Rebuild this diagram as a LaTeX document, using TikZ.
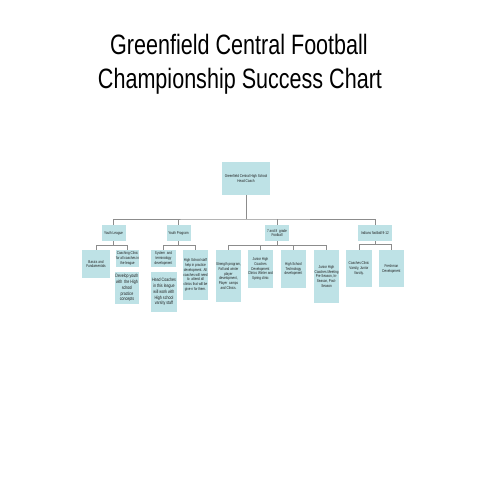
\documentclass[tikz,border=0pt]{standalone}
\usepackage{fontspec}
\newfontfamily\cond[FakeStretch=0.77]{Liberation Sans}
\newfontfamily\condb[FakeStretch=0.75]{Liberation Sans}
\definecolor{boxc}{RGB}{190,226,230}
\definecolor{linec}{RGB}{140,140,140}
\definecolor{txtc}{RGB}{30,30,30}
\tikzset{
  box/.style={fill=boxc, draw=none, inner sep=0pt, align=center, text=txtc,
    font=\condb\fontsize{4.1}{4.9}\selectfont},
  bigtxt/.style={font=\condb\fontsize{4.8}{5.8}\selectfont},
  conn/.style={draw=linec, line width=0.8pt},
  title/.style={font=\cond\fontsize{28}{33}\selectfont, text=black, inner sep=0pt, anchor=base}
}
\begin{document}
\begin{tikzpicture}[x=1pt,y=-1pt]
\useasboundingbox (0,0) rectangle (480,480);
\node[title] (t1) at (239,54.5) {Greenfield Central Football};
\node[title] (t2) at (240,88) {Championship Success Chart};

\node[box, minimum width=48pt, minimum height=33pt] (head) at (246,178.5) {Greenfield Central High School\\Head Coach};

\node[box, minimum width=24pt, minimum height=16pt] (yl) at (113.5,233) {Youth League};
\node[box, minimum width=24pt, minimum height=16pt] (yp) at (178.5,233) {Youth Program};
\node[box, minimum width=24pt, minimum height=16pt] (g78) at (277,233) {7 and 8 \ grade\\Football};
\node[box, minimum width=34pt, minimum height=16pt] (ind) at (375,233) {Indians football 9-12};

\node[box, minimum width=28pt, minimum height=28pt] (basics) at (96,264) {Basics and\\Fundamentals};
\node[box, minimum width=22pt, minimum height=17pt] (coach) at (127.5,258.5) {Coaching Clinic\\for all coaches in\\the league};
\node[box, bigtxt, minimum width=24pt, minimum height=32pt] (develop) at (127,288) {Develop youth\\with \ the High\\school\\practice\\concepts};

\node[box, minimum width=25pt, minimum height=17pt] (system) at (163.5,258.5) {System \ and\\terminology\\development};
\node[box, bigtxt, minimum width=26pt, minimum height=40pt] (headco) at (164,292) {Head Coaches\\in this league\\will work with\\High school\\varsity staff};
\node[box, minimum width=25pt, minimum height=50pt] (hsstaff) at (195.5,275) {High School staff\\help in practice\\development. All\\coaches will need\\to \ attend all\\clinics that will be\\give n for them.};

\node[box, minimum width=25pt, minimum height=52pt] (strength) at (228.5,276) {Strength program,\\Fall and winter\\player\\development,\\Player \ camps\\and Clinics.};
\node[box, minimum width=25pt, minimum height=38pt] (jhdev) at (260.5,269) {Junior High\\Coaches\\Development\\Clinics Winter and\\Spring clinic};
\node[box, minimum width=25pt, minimum height=38pt] (hstech) at (293.5,269) {High School\\Technology\\development};
\node[box, minimum width=25pt, minimum height=53pt] (jhmeet) at (326.5,276.5) {Junior High\\Coaches Meeting\\Pre Season, In-\\Season, Post-\\Season};

\node[box, minimum width=26pt, minimum height=37pt] (cclinic) at (359,268.5) {Coaches Clinic\\Varsity, Junior\\Varsity.};
\node[box, minimum width=25pt, minimum height=37pt] (fresh) at (391.5,268.5) {Freshman\\Development};

% top level bus
\coordinate (bus) at (246,219);
\draw[conn] (head.south) -- (bus);
\draw[conn] (yl.north) |- (bus) -| (ind.north);
\draw[conn] (yp.north) -- (yp.north |- bus);
\draw[conn] (g78.north) -- (g78.north |- bus);

% youth league
\draw[conn] (yl.south) -- ++(0,4) coordinate (ylb);
\draw[conn] (basics.north) |- (ylb) -| (coach.north);
% youth program
\draw[conn] (yp.south) -- ++(0,4) coordinate (ypb);
\draw[conn] (system.north) |- (ypb) -| (hsstaff.north);
% 7 and 8
\draw[conn] (g78.south) -- ++(0,4) coordinate (gb);
\draw[conn] (strength.north) |- (gb) -| (jhmeet.north);
\draw[conn] (jhdev.north) -- (jhdev.north |- gb);
\draw[conn] (hstech.north) -- (hstech.north |- gb);
% indians
\draw[conn] (ind.south) -- ++(0,3) coordinate (ib);
\draw[conn] (cclinic.north) |- (ib) -| (fresh.north);
\end{tikzpicture}
\end{document}
